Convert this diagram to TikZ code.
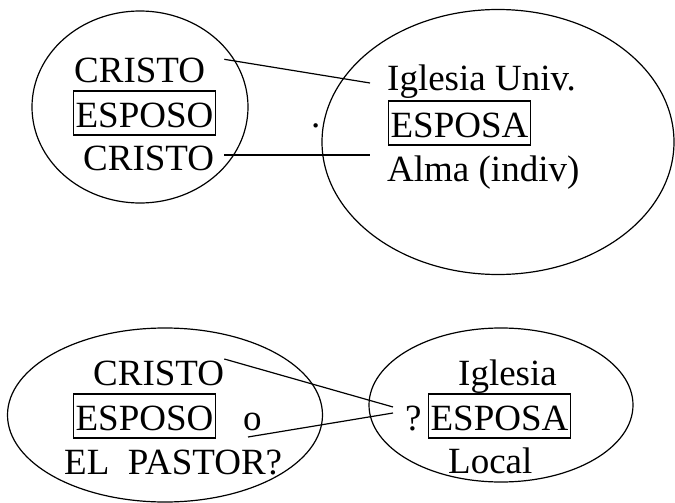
\documentclass[tikz,border=0pt]{standalone}
\usepackage{fontspec}
\setmainfont{Liberation Serif}
\usetikzlibrary{shapes.geometric}
\tikzset{palabra/.style={inner sep=0pt, anchor=base west, font=\fontsize{37}{40}\selectfont},
	recuadro/.style={palabra, draw, line width=1.2pt, inner xsep=2pt, inner ysep=0pt, text height=36pt, text depth=8pt},
	ovalo/.style={draw, ellipse, line width=1.2pt, inner sep=0pt},
	linea/.style={line width=1.2pt}}

\begin{document}
\begin{tikzpicture}[x=1pt, y=-1pt]

	\useasboundingbox (0,0) rectangle (675,503);

	\node[ovalo, minimum width=216pt, minimum height=192pt] (ovaloA) at (140,107) {};
	\node[ovalo, minimum width=352pt, minimum height=265pt] (ovaloB) at (498,142) {};
	\node[ovalo, minimum width=315pt, minimum height=174pt] (ovaloC) at (165,415) {};
	\node[ovalo, minimum width=264pt, minimum height=154pt] (ovaloD) at (501,405) {};

	\node[palabra] (cristoA) at (74,82) {CRISTO};
	\node[recuadro] (esposoA) at (73,127) {ESPOSO};
	\node[palabra] (cristoB) at (83,170) {CRISTO};
	\node[palabra] (punto) at (311,127) {.};

	\node[palabra] (iglesiaU) at (387,91) {Iglesia Univ.};
	\node[recuadro] (esposaA) at (388,137) {ESPOSA};
	\node[palabra] (alma) at (387,181) {Alma (indiv)};

	\draw[linea] ([xshift=19pt, yshift=-2pt]cristoA.north east) -- ([xshift=-17pt, yshift=8pt]iglesiaU.base west);
	\draw[linea] ([xshift=10pt, yshift=15pt]cristoB.base east) -- ([xshift=-17pt, yshift=26pt]alma.base west);

	\node[palabra] (cristoC) at (93,385) {CRISTO};
	\node[recuadro] (esposoB) at (73,430) {ESPOSO};
	\node[palabra] (o) at (243,430) {o};
	\node[palabra] (pastor) at (64,474) {EL\ \ PASTOR?};

	\node[palabra] (iglesiaL) at (458,385) {Iglesia};
	\node[palabra] (duda) at (405,430) {?};
	\node[recuadro] (esposaB) at (428,430) {ESPOSA};
	\node[palabra] (local) at (448,473) {Local};

	\draw[linea] ([yshift=26pt]cristoC.base east) -- ([xshift=-12pt, yshift=23pt]duda.base west);
	\draw[linea] ([xshift=5pt, yshift=-7pt]o.base west) -- ([xshift=-12pt, yshift=17pt]duda.base west);

\end{tikzpicture}
\end{document}
